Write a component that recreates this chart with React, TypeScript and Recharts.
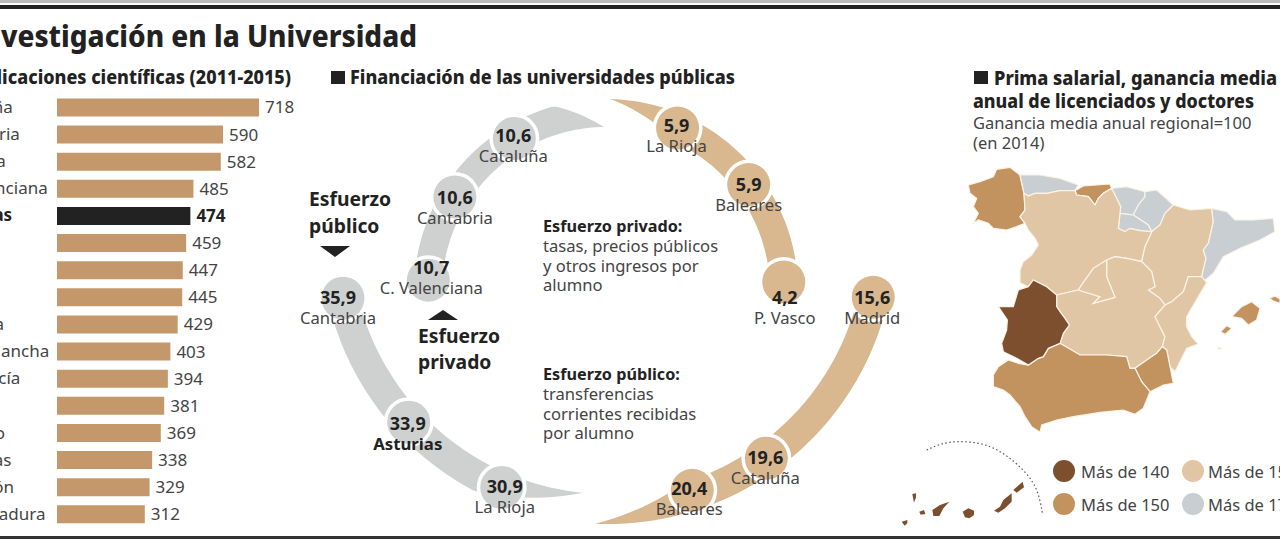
import React from "react";
import {
  Bar,
  BarChart,
  Cell,
  LabelList,
  Legend,
  Pie,
  PieChart,
  Scatter,
  ScatterChart,
  XAxis,
  YAxis,
} from "recharts";

// Publicaciones cientificas
const regionNames = [
  "Cataluña", "Cantabria", "Navarra", "C. Valenciana", "Asturias", "Madrid", "Galicia", "Murcia",
  "La Rioja", "C.-La Mancha", "Andalucía", "Aragón", "P. Vasco", "Canarias", "C. y León", "Extremadura",
];
const papers = [718, 590, 582, 485, 474, 459, 447, 445, 429, 403, 394, 381, 369, 338, 329, 312];
const highlighted = "Asturias";

// Financiacion, euros per student
const publicTopNames = ["Cantabria", "Asturias", "La Rioja"];
const publicTopValues = [35.9, 33.9, 30.9];
const publicEndNames = ["Madrid", "Cataluña", "Baleares"];
const publicEndValues = [15.6, 19.6, 20.4];
const privateLowNames = ["C. Valenciana", "Cantabria", "Cataluña"];
const privateLowValues = [10.7, 10.6, 10.6];
const privateHighNames = ["P. Vasco", "Baleares", "La Rioja"];
const privateHighValues = [4.2, 5.9, 5.9];

// Map legend
const legendLabels = ["Más de 140", "Más de 150", "Más de 155", "Más de 170"];

const FONT = "'Noto Sans', sans-serif";
const GREY = "#cfd1d1";
const TAN = "#d9b78f";
const BAR = "#c4986a";
const MAP_COLORS = ["#7d4f2e", "#c2925f", "#e0c6a4", "#c9ced3"];

// Map outlines, in map units. Neighbours share their border vertices
type Pts = number[][];
const galicia: Pts = [[205,375],[240,365],[280,350],[290,328],[330,322],[360,345],[372,400],[375,450],[360,470],[375,490],[350,500],[320,510],[280,505],[265,490],[235,480],[220,490],[235,460],[220,440],[230,415],[210,400]];
const asturias: Pts = [[360,345],[420,345],[480,355],[535,375],[525,392],[480,392],[440,400],[405,400],[385,408],[372,400]];
const cantabria: Pts = [[525,392],[550,378],[630,372],[635,385],[610,400],[595,415],[585,435],[565,410],[530,405]];
const paisVasco: Pts = [[635,385],[680,380],[735,395],[735,410],[715,435],[700,465],[660,460],[662,440],[650,415]];
const navarra: Pts = [[735,395],[770,390],[820,435],[795,460],[780,495],[755,515],[745,495],[700,465],[715,435],[735,410]];
const rioja: Pts = [[660,460],[700,465],[745,495],[755,515],[720,512],[690,505],[675,515],[655,505]];
const castillaLeon: Pts = [[372,400],[385,408],[405,400],[440,400],[480,392],[525,392],[530,405],[565,410],[585,435],[595,415],[610,400],[635,385],[650,415],[662,440],[660,460],[655,505],[675,515],[690,505],[720,512],[755,515],[750,528],[735,560],[725,605],[680,595],[645,590],[620,600],[580,625],[548,670],[535,690],[470,705],[440,680],[400,660],[385,680],[360,668],[360,630],[370,605],[395,585],[415,555],[405,535],[385,510],[375,490],[360,470],[375,450]];
const madrid: Pts = [[620,600],[620,650],[645,712],[580,730],[600,710],[535,690],[548,670],[580,625]];
const laMancha: Pts = [[620,600],[645,590],[680,595],[725,605],[755,635],[765,680],[745,690],[780,715],[795,735],[765,770],[780,800],[795,830],[787,860],[770,880],[750,893],[705,925],[690,925],[680,890],[620,885],[540,885],[480,850],[490,820],[508,795],[495,775],[480,755],[470,740],[470,705],[535,690],[600,710],[580,730],[645,712],[620,650]];
const aragon: Pts = [[820,435],[870,450],[935,445],[940,485],[925,550],[910,570],[918,595],[905,650],[865,650],[850,695],[815,725],[795,735],[780,715],[745,690],[765,680],[755,635],[725,605],[735,560],[750,528],[755,515],[780,495],[795,460]];
const cataluna: Pts = [[935,445],[980,455],[1005,480],[1060,480],[1120,475],[1125,515],[1080,540],[1020,565],[970,590],[940,640],[910,665],[905,650],[918,595],[910,570],[925,550],[940,485]];
const valencia: Pts = [[865,650],[905,650],[920,668],[895,710],[860,770],[860,800],[875,830],[895,852],[860,865],[825,935],[810,920],[800,870],[787,860],[795,830],[780,800],[765,770],[795,735],[815,725],[850,695]];
const murcia: Pts = [[705,925],[750,893],[770,880],[787,860],[800,870],[810,920],[820,970],[790,975],[750,995],[725,965]];
const andalucia: Pts = [[280,945],[295,920],[325,900],[355,910],[385,915],[415,895],[430,890],[445,865],[480,850],[540,885],[620,885],[680,890],[690,925],[705,925],[725,965],[750,995],[730,1045],[705,1063],[670,1050],[600,1057],[520,1070],[470,1080],[425,1095],[420,1117],[395,1100],[375,1070],[360,1040],[330,1005],[310,990],[280,980]];
const extremadura: Pts = [[400,660],[440,680],[470,705],[470,740],[480,755],[495,775],[508,795],[490,820],[480,850],[445,865],[430,890],[415,895],[385,915],[350,895],[310,875],[305,850],[320,810],[322,780],[295,740],[340,740],[355,690],[385,680]];
const mallorca: Pts = [[995,770],[1025,740],[1055,725],[1080,745],[1070,780],[1045,795],[1025,775]];
const menorca: Pts = [[1108,715],[1125,708],[1140,717],[1140,730],[1120,723]];
const ibiza: Pts = [[962,815],[980,797],[995,805],[975,823]];
const formentera: Pts = [[950,860],[965,865],[958,870]];
const lanzarote: Pts = [[340,1290],[368,1265],[372,1282],[350,1298]];
const fuerteventura: Pts = [[282,1352],[300,1340],[310,1320],[335,1300],[335,1325],[315,1345],[295,1358]];
const granCanaria: Pts = [[188,1355],[205,1345],[222,1352],[222,1365],[208,1375],[195,1372]];
const tenerife: Pts = [[97,1350],[120,1335],[148,1325],[130,1345],[118,1368],[100,1368]];
const gomera: Pts = [[58,1355],[72,1350],[76,1362],[62,1364]];
const laPalma: Pts = [[37,1302],[48,1300],[48,1312],[42,1328]];
const hierro: Pts = [[5,1385],[22,1380],[22,1390],[14,1397]];
const canaryArc: Pts = [[80,1170],[125,1152],[180,1145],[245,1152],[300,1175],[350,1212],[395,1262],[418,1315],[428,1365]];

// index into MAP_COLORS
const mapShapes: [Pts, number][] = [
  [galicia, 1], [asturias, 3], [cantabria, 1], [paisVasco, 3], [navarra, 3], [rioja, 3],
  [castillaLeon, 2], [aragon, 2], [cataluna, 3], [laMancha, 2], [madrid, 2], [valencia, 2],
  [murcia, 1], [andalucia, 1], [extremadura, 0], [mallorca, 1], [menorca, 1], [ibiza, 1], [formentera, 3],
  [lanzarote, 0], [fuerteventura, 0], [granCanaria, 0], [tenerife, 0], [gomera, 0], [laPalma, 0], [hierro, 0],
];

const toXY = (pts: Pts) => [...pts, pts[0]].map(([x, y]) => ({ x, y }));

// band with one end running out into a point
const taperedBand = (tipOuter: boolean, taperDeg: number) => (props: any) => {
  const { cx, cy, innerRadius, outerRadius, startAngle, endAngle } = props;
  const total = Math.abs(endAngle - startAngle);
  const t0 = 1 - taperDeg / total;
  const outer: string[] = [];
  const inner: string[] = [];
  for (let i = 0; i <= 60; i++) {
    const t = i / 60;
    const u = t < t0 ? 0 : (t - t0) / (1 - t0);
    const a = ((startAngle + (endAngle - startAngle) * t) * Math.PI) / 180;
    const w = outerRadius - innerRadius;
    const ro = tipOuter ? outerRadius : outerRadius - w * u;
    const ri = tipOuter ? innerRadius + w * u : innerRadius;
    outer.push(`${cx + ro * Math.cos(a)},${cy - ro * Math.sin(a)}`);
    inner.unshift(`${cx + ri * Math.cos(a)},${cy - ri * Math.sin(a)}`);
  }
  return <path d={`M${outer.join("L")}L${inner.join("L")}Z`} fill={props.fill} />;
};

const nodeLabel = (color: string, dx: number, dy: number, boldName: boolean) => (props: any) => {
  const { cx, cy, midAngle, outerRadius, name, value } = props;
  const a = (midAngle * Math.PI) / 180;
  const x = cx + outerRadius * Math.cos(a);
  const y = cy - outerRadius * Math.sin(a);
  return (
    <g style={{ fontFamily: FONT }}>
      <circle cx={x} cy={y} r={25} fill="#fff" />
      <circle cx={x} cy={y} r={21.5} fill={color} />
      <text x={x + dx} y={y + dy + 6} textAnchor="middle" fontSize={18} fontWeight={700} fill="#222">
        {String(value.toFixed(1)).replace(".", ",")}
      </text>
      <text x={x + dx} y={y + dy + 26} textAnchor="middle" fontSize={boldName ? 16.8 : 16.6} fontWeight={boldName ? 700 : 400} fill={boldName ? "#222" : "#444"}>
        {name}
      </text>
    </g>
  );
};

const rings = [
  { cx: 608, cy: 237, r: [257, 287], mids: [272, 272, 272], color: GREY, band: [193, 264.4], tipOuter: false, taper: 22, names: publicTopNames, values: publicTopValues, angles: [193, 222.9, 247], off: [[-5, 0], [-1, 1.5], [3, 0]] },
  { cx: 608, cy: 237, r: [257, 287], mids: [272, 272, 267], color: TAN, band: [347.2, 267.4], tipOuter: true, taper: 20, names: publicEndNames, values: publicEndValues, angles: [347.2, 305.6, 288.4], off: [[-1, 1], [-1, 0], [-3, -1]] },
  { cx: 606, cy: 291, r: [164, 192], mids: [178, 178, 178], color: GREY, band: [176.5, 90.7], tipOuter: false, taper: 15, names: privateLowNames, values: privateLowValues, angles: [176.5, 148.1, 121], off: [[3, -12], [0, 1], [-1, -2]] },
  { cx: 606, cy: 291, r: [164, 192], mids: [178, 178, 178], color: TAN, band: [2.9, 88.8], tipOuter: true, taper: 24, names: privateHighNames, values: privateHighValues, angles: [2.9, 36.7, 66.3], off: [[1, 16], [0, 0], [-1, -2]] },
];

const barData = regionNames.map((name, i) => ({ name, value: papers[i] }));

const CategoryTick = ({ y, payload }: any) => {
  const bold = payload.value === highlighted;
  return (
    <text x={-58} y={y + 6} fontSize={17} fontFamily={FONT} fontWeight={bold ? 700 : 400} fill={bold ? "#222" : "#444"}>
      {payload.value}
    </text>
  );
};

const ValueLabel = ({ x, y, width, height, value, index }: any) => (
  <text
    x={x + width + 6}
    y={y + height / 2 + 6}
    fontSize={17}
    fontFamily={FONT}
    fontWeight={regionNames[index] === highlighted ? 700 : 400}
    fill={regionNames[index] === highlighted ? "#222" : "#444"}
  >
    {value}
  </text>
);

const MapLegend = () => (
  <div style={{ position: "relative", width: 300, height: 60, fontFamily: FONT, fontSize: 16.5, color: "#444" }}>
    {legendLabels.map((label, i) => (
      <div key={label} style={{ position: "absolute", left: i < 2 ? 0 : 129, top: i % 2 ? 33 : 0, whiteSpace: "nowrap", display: "flex", alignItems: "center", height: 24 }}>
        <span style={{ width: 22, height: 22, borderRadius: 11, marginRight: i < 2 ? 6 : 4, background: MAP_COLORS[i] }} />
        {label}
      </div>
    ))}
  </div>
);

const notes: [string, number, number, number, number][] = [
  // text, x, y, size, weight
  ["Esfuerzo", 309, 206, 19.3, 700],
  ["público", 309, 233, 19.3, 700],
  ["Esfuerzo", 418, 343, 19.3, 700],
  ["privado", 418, 369, 19.3, 700],
  ["Esfuerzo privado:", 543, 232, 16.2, 700],
  ["tasas, precios públicos", 543, 252, 16.6, 400],
  ["y otros ingresos por", 543, 272, 16.6, 400],
  ["alumno", 543, 291, 16.6, 400],
  ["Esfuerzo público:", 543, 380, 16.2, 700],
  ["transferencias", 543, 400, 16.6, 400],
  ["corrientes recibidas", 543, 420, 16.6, 400],
  ["por alumno", 543, 439, 16.6, 400],
  ["Ganancia media anual regional=100", 973, 129, 16.5, 400],
  ["(en 2014)", 973, 149, 16.5, 400],
];

// headings, squeezed to the measured width
const headings: [string, number, number, number, number][] = [
  ["Investigación en la Universidad", -29, 47, 446, 31],
  ["Publicaciones científicas (2011-2015)", -38, 84, 329, 19.5],
  ["Financiación de las universidades públicas", 350, 84, 385, 19.5],
  ["Prima salarial, ganancia media", 994, 85, 283, 19.5],
  ["anual de licenciados y doctores", 973, 108, 281, 19.5],
];

export default function App() {
  return (
    <div style={{ position: "relative", width: 1280, height: 548, overflow: "hidden", background: "#fff" }}>
      <style>{"body{margin:0;overflow:hidden}"}</style>
      <div style={{ position: "absolute", left: 0, right: 0, top: 0, height: 3, background: "#bbb" }} />
      <div style={{ position: "absolute", left: 0, right: 0, top: 5, height: 4, background: "#222" }} />
      <div style={{ position: "absolute", left: 0, right: 0, top: 536, height: 3, background: "#333" }} />

      <div style={{ position: "absolute", left: 0, top: 0 }}>
        <BarChart
          width={330}
          height={548}
          data={barData}
          layout="vertical"
          margin={{ top: 93.4, right: 70.4, bottom: 20.5, left: 0 }}
          barSize={18}
        >
          <XAxis type="number" domain={[0, 720]} hide />
          <YAxis type="category" dataKey="name" width={57} axisLine={false} tickLine={false} interval={0} tick={<CategoryTick />} />
          <Bar dataKey="value" isAnimationActive={false}>
            {barData.map((d) => (
              <Cell key={d.name} fill={d.name === highlighted ? "#222" : BAR} />
            ))}
            <LabelList dataKey="value" content={<ValueLabel />} />
          </Bar>
        </BarChart>
      </div>

      <div style={{ position: "absolute", left: 0, top: 0 }}>
        <PieChart width={1280} height={548} margin={{ top: 0, right: 0, bottom: 0, left: 0 }}>
          {rings.map((ring, k) => (
            <Pie
              key={`band-${k}`}
              data={[{ name: "band", value: 1 }]}
              dataKey="value"
              cx={ring.cx}
              cy={ring.cy}
              innerRadius={ring.r[0]}
              outerRadius={ring.r[1]}
              startAngle={ring.band[0]}
              endAngle={ring.band[1]}
              fill={ring.color}
              stroke="none"
              shape={taperedBand(ring.tipOuter, ring.taper)}
              isAnimationActive={false}
            />
          ))}
          {rings.flatMap((ring, k) =>
            ring.names.map((name, i) => (
              <Pie
                key={`node-${k}-${i}`}
                data={[{ name, value: ring.values[i] }]}
                dataKey="value"
                cx={ring.cx}
                cy={ring.cy}
                innerRadius={ring.mids[i]}
                outerRadius={ring.mids[i]}
                startAngle={ring.angles[i] - 1}
                endAngle={ring.angles[i] + 1}
                fill="none"
                stroke="none"
                labelLine={false}
                label={nodeLabel(ring.color, ring.off[i][0], ring.off[i][1], name === highlighted)}
                isAnimationActive={false}
              />
            ))
          )}
        </PieChart>
      </div>

      <div style={{ position: "absolute", left: 900, top: 60 }}>
        <ScatterChart width={380} height={480} margin={{ top: 0, right: 0, bottom: 0, left: 0 }}>
          <XAxis type="number" dataKey="x" domain={[0, 1140]} hide />
          <YAxis type="number" dataKey="y" domain={[0, 1440]} reversed hide />
          {mapShapes.map(([pts, level], i) => (
            <Scatter
              key={i}
              data={toXY(pts)}
              line={{ fill: MAP_COLORS[level], stroke: "#fbf3e6", strokeWidth: i > 18 ? 0 : 1.2 }}
              shape={() => null}
              legendType="none"
              isAnimationActive={false}
            />
          ))}
          <Scatter
            data={canaryArc.map(([x, y]) => ({ x, y }))}
            line={{ fill: "none", stroke: "#555", strokeWidth: 1.2, strokeDasharray: "1.5 2.5" }}
            lineJointType="natural"
            shape={() => null}
            legendType="none"
            isAnimationActive={false}
          />
          <Legend
            layout="horizontal"
            align="center"
            verticalAlign="middle"
            content={<MapLegend />}
            wrapperStyle={{ left: 153, top: 399, width: 300 }}
          />
        </ScatterChart>
      </div>

      <svg width={1280} height={548} style={{ position: "absolute", left: 0, top: 0, pointerEvents: "none" }}>
        {headings.map(([text, x, y, w, size]) => (
          <text key={text} x={x} y={y} textLength={w} lengthAdjust="spacingAndGlyphs" fontSize={size} fontWeight={800} fontFamily={FONT} fill="#222">
            {text}
          </text>
        ))}
        {/* heading squares */}
        <rect x={331} y={71} width={14} height={13} fill="#222" />
        <rect x={974} y={71} width={14} height={13} fill="#222" />
        {notes.map(([text, x, y, size, weight]) => (
          <text key={text + y} x={x} y={y} fontSize={size} fontWeight={weight} fontFamily={FONT} fill={weight === 700 ? "#222" : "#444"}>
            {text}
          </text>
        ))}
        {/* esfuerzo arrows */}
        <path d="M320 246H350L335 257Z" fill="#222" />
        <path d="M428 320H458L443 310Z" fill="#222" />
      </svg>
    </div>
  );
}
